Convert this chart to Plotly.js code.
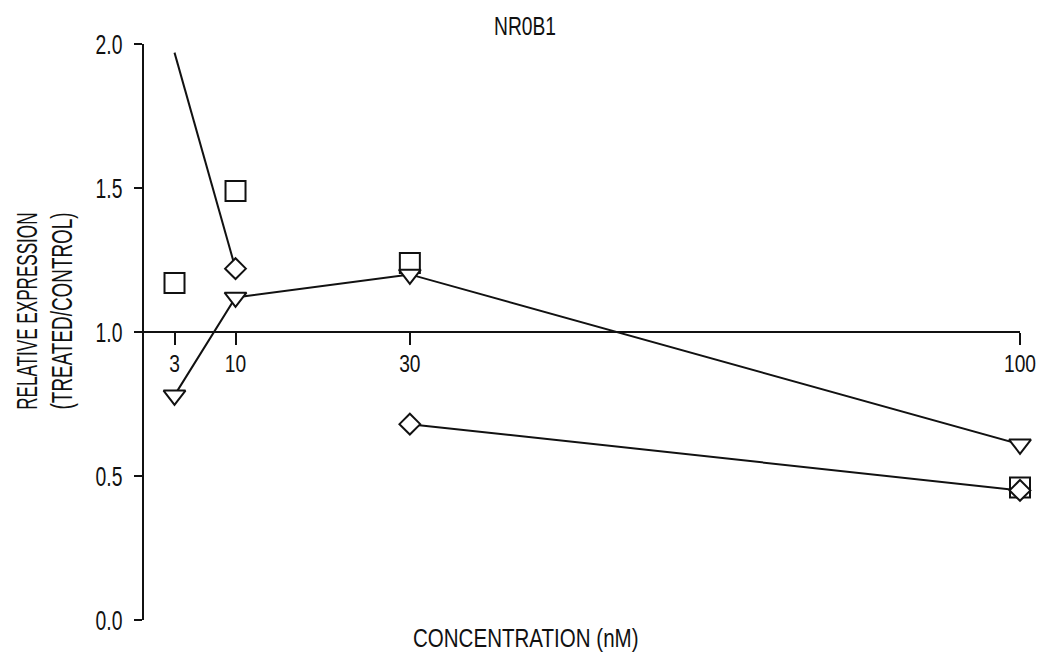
<!DOCTYPE html>
<html>
<head>
<meta charset="utf-8">
<script src="https://cdn.plot.ly/plotly-3.0.1.min.js"></script>
<style>html,body{margin:0;padding:0;background:#fff;}</style>
</head>
<body>
<div id="chart" style="width:1042px;height:658px;"></div>
<script>
// Data
var concentrations = [3, 10, 30, 100];
var squareSeries   = [1.17, 1.49, 1.24, 0.46];
var triangleSeries = [0.78, 1.12, 1.20, 0.61];
var diamondSeries  = [1.97, 1.22, 0.68, 0.45];
var xTickLabels = ['3', '10', '30', '100'];
var yTickValues = [0, 0.5, 1.0, 1.5, 2.0];
var yTickLabels = ['0.0', '0.5', '1.0', '1.5', '2.0'];
var chartTitle = 'NR0B1';
var xTitle = 'CONCENTRATION (nM)';
var yTitleLines = ['RELATIVE EXPRESSION', '(TREATED/CONTROL)'];

var FONT = '"Liberation Sans", Arial, sans-serif';
var black = '#111';

var traces = [
  {x: concentrations.slice(0, 2), y: diamondSeries.slice(0, 2), mode: 'lines',
   line: {color: black, width: 2}, hoverinfo: 'skip', cliponaxis: false},
  {x: concentrations.slice(2), y: diamondSeries.slice(2), mode: 'lines',
   line: {color: black, width: 2}, hoverinfo: 'skip', cliponaxis: false},
  {x: concentrations, y: triangleSeries, mode: 'lines',
   line: {color: black, width: 2}, hoverinfo: 'skip', cliponaxis: false},
  {x: concentrations, y: squareSeries, mode: 'markers', cliponaxis: false,
   marker: {symbol: 'square', size: 20, color: 'rgba(255,255,255,0)', line: {color: black, width: 2}}},
  {x: concentrations.slice(1), y: diamondSeries.slice(1), mode: 'markers', cliponaxis: false,
   marker: {symbol: 'diamond', size: 16, color: '#fff', line: {color: black, width: 2}}},
  {x: concentrations, y: triangleSeries, mode: 'markers', cliponaxis: false,
   marker: {symbol: 'triangle-down', size: 19, color: '#fff', line: {color: black, width: 2}}}
];

var layout = {
  width: 1042, height: 658,
  margin: {l: 144, r: 22, t: 44, b: 38},
  paper_bgcolor: '#fff', plot_bgcolor: '#fff',
  showlegend: false,
  font: {family: FONT, color: black, size: 26},
  title: {text: chartTitle, xref: 'paper', x: 0.435, xanchor: 'center',
          yref: 'container', y: 0.96, yanchor: 'middle',
          font: {family: FONT, size: 26, color: black}},
  xaxis: {
    range: [-0.5, 100], anchor: 'free', position: 0.5,
    showline: true, linecolor: black, linewidth: 2,
    showgrid: false, zeroline: false,
    tickmode: 'array', tickvals: concentrations, ticktext: xTickLabels,
    ticks: 'outside', ticklen: 12, tickwidth: 2, tickcolor: black,
    ticklabelstandoff: -2, ticklabeloverflow: 'allow',
    tickfont: {family: FONT, size: 24, color: black}
  },
  yaxis: {
    range: [0, 2], showline: true, linecolor: black, linewidth: 2,
    showgrid: false, zeroline: false,
    tickmode: 'array', tickvals: yTickValues, ticktext: yTickLabels,
    ticks: 'outside', ticklen: 8, tickwidth: 2, tickcolor: black,
    ticklabelstandoff: 6,
    tickfont: {family: FONT, size: 28, color: black}
  },
  annotations: [
    {text: yTitleLines[0], textangle: -90,
     xref: 'paper', yref: 'paper', x: -0.1347, y: 0.536,
     xanchor: 'center', yanchor: 'middle', showarrow: false,
     font: {family: FONT, size: 30, color: black}},
    {text: yTitleLines[1], textangle: -90,
     xref: 'paper', yref: 'paper', x: -0.0947, y: 0.536,
     xanchor: 'center', yanchor: 'middle', showarrow: false,
     font: {family: FONT, size: 30, color: black}},
    {text: xTitle, xref: 'paper', yref: 'paper',
     x: 0.436, y: -0.032, xanchor: 'center', yanchor: 'middle', showarrow: false,
     font: {family: FONT, size: 26, color: black}}
  ]
};

// horizontal condensing of text (the reference uses a condensed face)
function squeeze(nodes, ratio) {
  nodes.forEach(function (t) {
    var L = t.getComputedTextLength();
    if (L > 0) {
      t.setAttribute('textLength', (L * ratio).toFixed(2));
      t.setAttribute('lengthAdjust', 'spacingAndGlyphs');
    }
  });
}

Plotly.newPlot('chart', traces, layout, {staticPlot: true, displayModeBar: false}).then(function (gd) {
  squeeze(gd.querySelectorAll('.xtick text'), 0.8);
  squeeze(gd.querySelectorAll('.ytick text'), 0.69);
  squeeze(gd.querySelectorAll('.gtitle'), 0.74);
  var ann = gd.querySelectorAll('.annotation text');
  squeeze([ann[0]], 0.57);
  squeeze([ann[1]], 0.63);
  squeeze([ann[2]], 0.79);
});
</script>
</body>
</html>
